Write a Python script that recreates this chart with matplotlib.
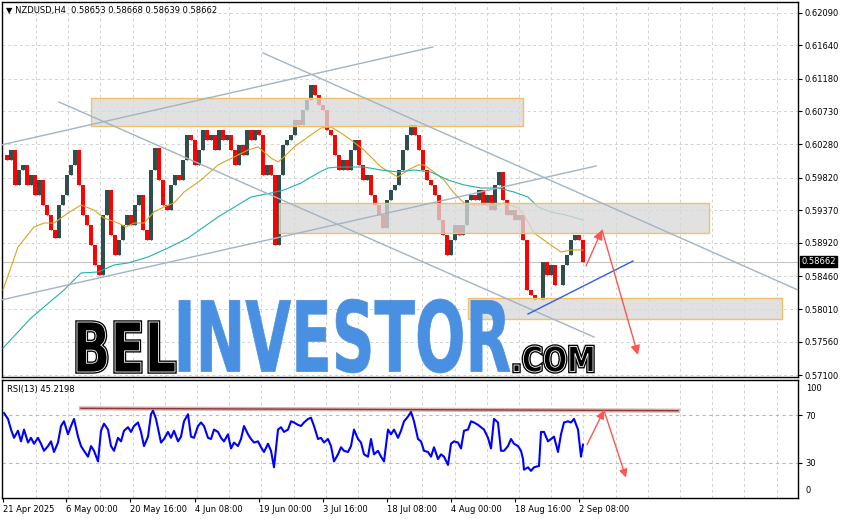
import numpy as np
import matplotlib
matplotlib.use("Agg")
import matplotlib.pyplot as plt
from matplotlib.textpath import TextPath
from matplotlib.patches import PathPatch, Rectangle
from matplotlib.font_manager import FontProperties
from matplotlib.transforms import Affine2D

# ---- price data (closes sampled every 4 H4 bars) ----
closes = [0.60131, 0.60062, 0.60199, 0.59718, 0.59924, 0.59993, 0.59718, 0.59855, 0.59580, 0.59786,
          0.59442, 0.59304, 0.59098, 0.58988, 0.59442, 0.59580, 0.59855, 0.59993, 0.60199, 0.59718,
          0.59304, 0.59167, 0.58891, 0.58616, 0.58478, 0.59304, 0.59649, 0.59029, 0.58754, 0.58960,
          0.59167, 0.59304, 0.59167, 0.59442, 0.59580, 0.59098, 0.58960, 0.59924, 0.60227, 0.59786,
          0.59442, 0.59373, 0.59718, 0.59855, 0.59786, 0.60062, 0.60406, 0.60337, 0.59993, 0.60199,
          0.60475, 0.60337, 0.60406, 0.60199, 0.60475, 0.60337, 0.60406, 0.60199, 0.59993, 0.60268,
          0.60131, 0.60475, 0.60337, 0.60475, 0.60406, 0.59855, 0.59993, 0.59855, 0.58891, 0.59855,
          0.60268, 0.60337, 0.60406, 0.60613, 0.60544, 0.60750, 0.60888, 0.61095, 0.60957, 0.60819,
          0.60750, 0.60475, 0.60406, 0.60131, 0.59924, 0.60062, 0.59924, 0.60199, 0.60337, 0.59993,
          0.59786, 0.59855, 0.59580, 0.59442, 0.59304, 0.59125, 0.59511, 0.59649, 0.59718, 0.59924,
          0.60199, 0.60406, 0.60544, 0.60406, 0.60199, 0.59924, 0.59786, 0.59718, 0.59580, 0.59236,
          0.59029, 0.58754, 0.58960, 0.59167, 0.59029, 0.59167, 0.59511, 0.59580, 0.59511, 0.59649,
          0.59442, 0.59580, 0.59373, 0.59718, 0.59897, 0.59511, 0.59304, 0.59373, 0.59236, 0.59304,
          0.58960, 0.58272, 0.58203, 0.58134, 0.58134, 0.58657, 0.58478, 0.58616, 0.58341, 0.58341,
          0.58616, 0.58754, 0.58960, 0.59029, 0.58960, 0.58662]
bar_step = 4

ma_fast_bars = [0, 15, 31, 41, 51, 65, 78, 91, 101, 115, 123, 131, 141, 151, 161, 171, 181, 198, 215,
                231, 245, 255, 261, 268, 275, 281, 291, 305, 318, 328, 338, 348, 361, 378, 395, 405,
                415, 421, 431, 441, 451, 461, 471, 485, 495, 501, 515, 521, 531, 545, 558, 568, 580]
ma_fast = [0.58272, 0.58864, 0.59139, 0.59194, 0.59194, 0.59332, 0.59442, 0.59373, 0.59263, 0.59194,
           0.59139, 0.59194, 0.59194, 0.59346, 0.59415, 0.59470, 0.59621, 0.59786, 0.59993, 0.60103,
           0.60199, 0.60241, 0.60172, 0.60089, 0.60034, 0.60103, 0.60241, 0.60379, 0.60502, 0.60516,
           0.60434, 0.60337, 0.60199, 0.59965, 0.59828, 0.59924, 0.59993, 0.59993, 0.59897, 0.59786,
           0.59607, 0.59470, 0.59442, 0.59442, 0.59442, 0.59470, 0.59401, 0.59304, 0.59057, 0.58919,
           0.58795, 0.58823, 0.58823]

ma_slow_bars = [0, 28, 61, 78, 95, 111, 125, 145, 165, 185, 198, 215, 248, 268, 281, 298, 315, 325,
                335, 348, 361, 378, 395, 411, 428, 445, 461, 478, 495, 511, 525, 535, 548, 563, 580]
ma_slow = [0.57473, 0.57886, 0.58272, 0.58506, 0.58520, 0.58616, 0.58644, 0.58726, 0.58850, 0.58988,
           0.59112, 0.59277, 0.59552, 0.59607, 0.59649, 0.59745, 0.59883, 0.59952, 0.59965, 0.59965,
           0.59965, 0.59924, 0.59897, 0.59924, 0.59897, 0.59786, 0.59718, 0.59676, 0.59676, 0.59621,
           0.59552, 0.59415, 0.59346, 0.59304, 0.59236]

# zones: (start bar, end bar, low, high)
zones = [(88, 520, 0.60530, 0.60922),
         (276, 706, 0.59057, 0.59470),
         (465, 779, 0.57872, 0.58161)]

# trend lines: (bar0, price0, bar1, price1)
channel_lines = [(-2, 0.60268, 430, 0.61618),
                 (260, 0.61535, 795, 0.58272),
                 (56, 0.60860, 591, 0.57624),
                 (-2, 0.58134, 593, 0.59979)]
support_line = (525, 0.57941, 630, 0.58671)
forecast = [(583, 0.58602), (599, 0.59098), (635, 0.57377)]

price_ticks = [0.62090, 0.61640, 0.61180, 0.60730, 0.60280, 0.59820, 0.59370,
               0.58920, 0.58460, 0.58010, 0.57560, 0.57100]
last_price = 0.58662

# ---- RSI ----
rsi_bars = [1, 5, 8, 11, 15, 18, 21, 25, 28, 31, 35, 38, 41, 45, 48, 51, 55, 58, 61, 65, 68, 71, 75,
            78, 81, 85, 88, 91, 95, 98, 101, 105, 108, 111, 115, 118, 121, 125, 128, 131, 135, 138,
            141, 145, 148, 150, 153, 158, 161, 165, 168, 171, 175, 178, 181, 185, 188, 191, 195, 198,
            201, 205, 208, 211, 215, 218, 221, 225, 228, 231, 235, 238, 241, 245, 248, 251, 255, 258,
            261, 265, 268, 271, 275, 278, 281, 285, 288, 291, 295, 298, 301, 305, 308, 311, 315, 318,
            321, 325, 328, 331, 335, 338, 341, 345, 348, 351, 355, 358, 361, 365, 368, 371, 375, 378,
            381, 385, 388, 391, 395, 398, 401, 405, 408, 411, 415, 418, 421, 425, 428, 431, 435, 438,
            441, 445, 448, 451, 455, 458, 461, 465, 468, 471, 475, 478, 481, 485, 488, 491, 495, 498,
            501, 505, 508, 511, 515, 518, 520, 521, 525, 528, 531, 535, 536, 538, 541, 545, 548, 551,
            555, 558, 561, 565, 568, 571, 575, 578, 580]
rsi_vals = [72, 67, 58, 51, 57, 48, 58, 47, 51, 46, 51, 46, 40, 44, 48, 39, 47, 61, 65, 54, 61, 67, 52,
            44, 40, 35, 44, 40, 31, 57, 63, 58, 44, 40, 51, 48, 57, 60, 56, 61, 64, 56,
            44, 52, 71, 74, 67, 47, 50, 56, 51, 57, 48, 52, 65, 71, 52, 51, 61, 64,
            61, 51, 50, 58, 56, 51, 48, 54, 42, 47, 44, 50, 61, 54, 50, 47, 48, 43,
            39, 46, 40, 26, 58, 60, 56, 58, 65, 64, 62, 61, 64, 67, 68, 61, 50, 51,
            47, 50, 44, 31, 37, 43, 40, 39, 44, 58, 50, 47, 37, 35, 50, 37, 40, 35,
            31, 58, 54, 58, 51, 57, 65, 69, 73, 65, 50, 48, 40, 39, 35, 43, 33, 37,
            35, 28, 46, 48, 47, 42, 57, 58, 65, 64, 62, 60, 58, 51, 42, 67, 64, 40,
            40, 44, 50, 46, 44, 40, 33, 24, 26, 23, 26, 27, 27, 56, 56, 48, 50, 52,
            39, 54, 64, 65, 64, 67, 58, 35, 45.2198]
rsi_resist = (78, 76, 675, 74)
rsi_forecast = [(584, 45.2), (601, 74.2), (623, 17.3)]

date_bars = [0, 63, 127, 192, 256, 320, 384, 448, 512, 576]
date_labels = ["21 Apr 2025", "6 May 00:00", "20 May 16:00", "4 Jun 08:00", "19 Jun 00:00",
               "3 Jul 16:00", "18 Jul 08:00", "4 Aug 00:00", "18 Aug 16:00", "2 Sep 08:00"]

GRID = "#d2d2d2"
LINE = "#a2b4c4"
ARROW = "#ff5454"

fig = plt.figure(figsize=(8.45, 5.19), dpi=100)
ax = fig.add_axes([2 / 845, 1 - 377 / 519, 796 / 845, 375 / 519])
rax = fig.add_axes([2 / 845, 1 - 498 / 519, 796 / 845, 118 / 519])

for a in (ax, rax):
    a.set_xlim(-1, 795)
    for s in a.spines.values():
        s.set_color("black")
        s.set_linewidth(1)
    for g in np.arange(33, 795, 32.2):
        a.axvline(g, color=GRID, lw=0.7, ls=(0, (3, 3)), zorder=0)

# main price panel
ax.set_ylim(0.57074, 0.62237)
for p in price_ticks:
    ax.axhline(p, color=GRID, lw=0.7, ls=(0, (3, 3)), zorder=0)
ax.axhline(last_price, color="#c4c4c4", lw=0.8, zorder=1)

c = np.array(closes)
o = np.concatenate([[c[0]], c[:-1]])
xs = np.arange(len(c)) * bar_step
cols = np.where(c >= o, "#2f4f4f", "#ff0000")
ax.bar(xs, c - o, bottom=o, width=3.2, color=cols, linewidth=0, zorder=2)
ax.vlines(xs, np.minimum(o, c), np.maximum(o, c), colors=cols, lw=1, zorder=2)

ax.plot(ma_fast_bars, ma_fast, color="#daa520", lw=0.8, zorder=3)
ax.plot(ma_slow_bars, ma_slow, color="#20b2aa", lw=0.8, zorder=3)

for b0, b1, lo, hi in zones:
    ax.add_patch(Rectangle((b0, lo), b1 - b0, hi - lo, fc=(0.85, 0.85, 0.85, 0.78),
                           ec="#f2c066", lw=1, zorder=4))

for b0, p0, b1, p1 in channel_lines:
    ax.plot([b0, b1], [p0, p1], color=LINE, lw=1, zorder=5)
ax.plot(support_line[::2], support_line[1::2], color="#2f5fe8", lw=1, zorder=5)

for (xa, ya), (xb, yb) in zip(forecast[:-1], forecast[1:]):
    ax.annotate("", xy=(xb, yb), xytext=(xa, ya),
                arrowprops=dict(arrowstyle="-|>", color=ARROW, lw=1, mutation_scale=14,
                                shrinkA=0, shrinkB=0), zorder=6)

ax.yaxis.tick_right()
ax.set_yticks(price_ticks)
ax.set_yticklabels([f"{p:.5f}" for p in price_ticks])
ax.tick_params(axis="y", direction="out", length=3, labelsize=6, pad=2, colors="black")
ax.tick_params(axis="x", bottom=False, labelbottom=False)
ax.text(1.004, last_price, f"{last_price:.5f}", transform=ax.get_yaxis_transform(),
        color="white", fontsize=6, va="center", ha="left",
        bbox=dict(boxstyle="square,pad=0.15", fc="black", ec="black"))
fig.text(6 / 845, 1 - 10 / 519, "\u25bc NZDUSD,H4  0.58653 0.58668 0.58639 0.58662",
         fontsize=6, va="center", ha="left")

# RSI panel
rax.set_ylim(0, 100)
for lvl in (70, 30):
    rax.axhline(lvl, color="#b8b8b8", lw=0.8, ls=(0, (3, 3)), zorder=0)
rax.plot(rsi_bars, rsi_vals, color="#0000ff", lw=1.5, zorder=3)
rax.plot(rsi_resist[::2], rsi_resist[1::2], color="#d8b4b4", lw=3, zorder=2)
rax.plot(rsi_resist[::2], rsi_resist[1::2], color="#8b3a3a", lw=1, zorder=2)
for (xa, ya), (xb, yb) in zip(rsi_forecast[:-1], rsi_forecast[1:]):
    rax.annotate("", xy=(xb, yb), xytext=(xa, ya),
                 arrowprops=dict(arrowstyle="-|>", color=ARROW, lw=1, mutation_scale=12,
                                 shrinkA=0, shrinkB=0), zorder=4)
rax.yaxis.tick_right()
rax.set_yticks([70, 30])
rax.set_yticklabels(["70", "30"])
rax.tick_params(axis="y", direction="out", length=3, labelsize=6, pad=2)
rax.text(1.01, 93, "100", transform=rax.get_yaxis_transform(), fontsize=6, va="center")
rax.text(1.01, 6, "0", transform=rax.get_yaxis_transform(), fontsize=6, va="center")
rax.text(4, 92, "RSI(13) 45.2198", fontsize=6, va="center")
rax.set_xticks(date_bars)
rax.set_xticklabels(date_labels)
for lbl in rax.get_xticklabels():
    lbl.set_ha("left")
rax.tick_params(axis="x", direction="out", length=3, labelsize=6, pad=2)

# watermark
over = fig.add_axes([0, 0, 1, 1])
over.set_xlim(0, 845)
over.set_ylim(519, 0)
over.axis("off")
bold = FontProperties(family="DejaVu Sans", weight="bold")


def logo(txt, box, outlined, color):
    path = TextPath((0, 0), txt, size=100, prop=bold)
    ext = path.get_extents()
    x0, y0, x1, y1 = box
    tr = (Affine2D().translate(-ext.x0, -ext.y0)
          .scale((x1 - x0) / ext.width, -(y1 - y0) / ext.height)
          .translate(x0, y1) + over.transData)
    if outlined:
        over.add_patch(PathPatch(path, transform=tr, fc="black", ec="black", lw=2.5))
        over.add_patch(PathPatch(path, transform=tr, fc="black", ec="white", lw=0.6))
    else:
        over.add_patch(PathPatch(path, transform=tr, fc=color, ec=color, lw=0.5))


logo("BEL", (77, 322, 175, 372), True, "black")
logo("INVESTOR", (179, 299, 510, 373), False, "#4a90e2")
logo(".COM", (514, 346, 593, 372), True, "black")

fig.savefig("out.png", dpi=100)
